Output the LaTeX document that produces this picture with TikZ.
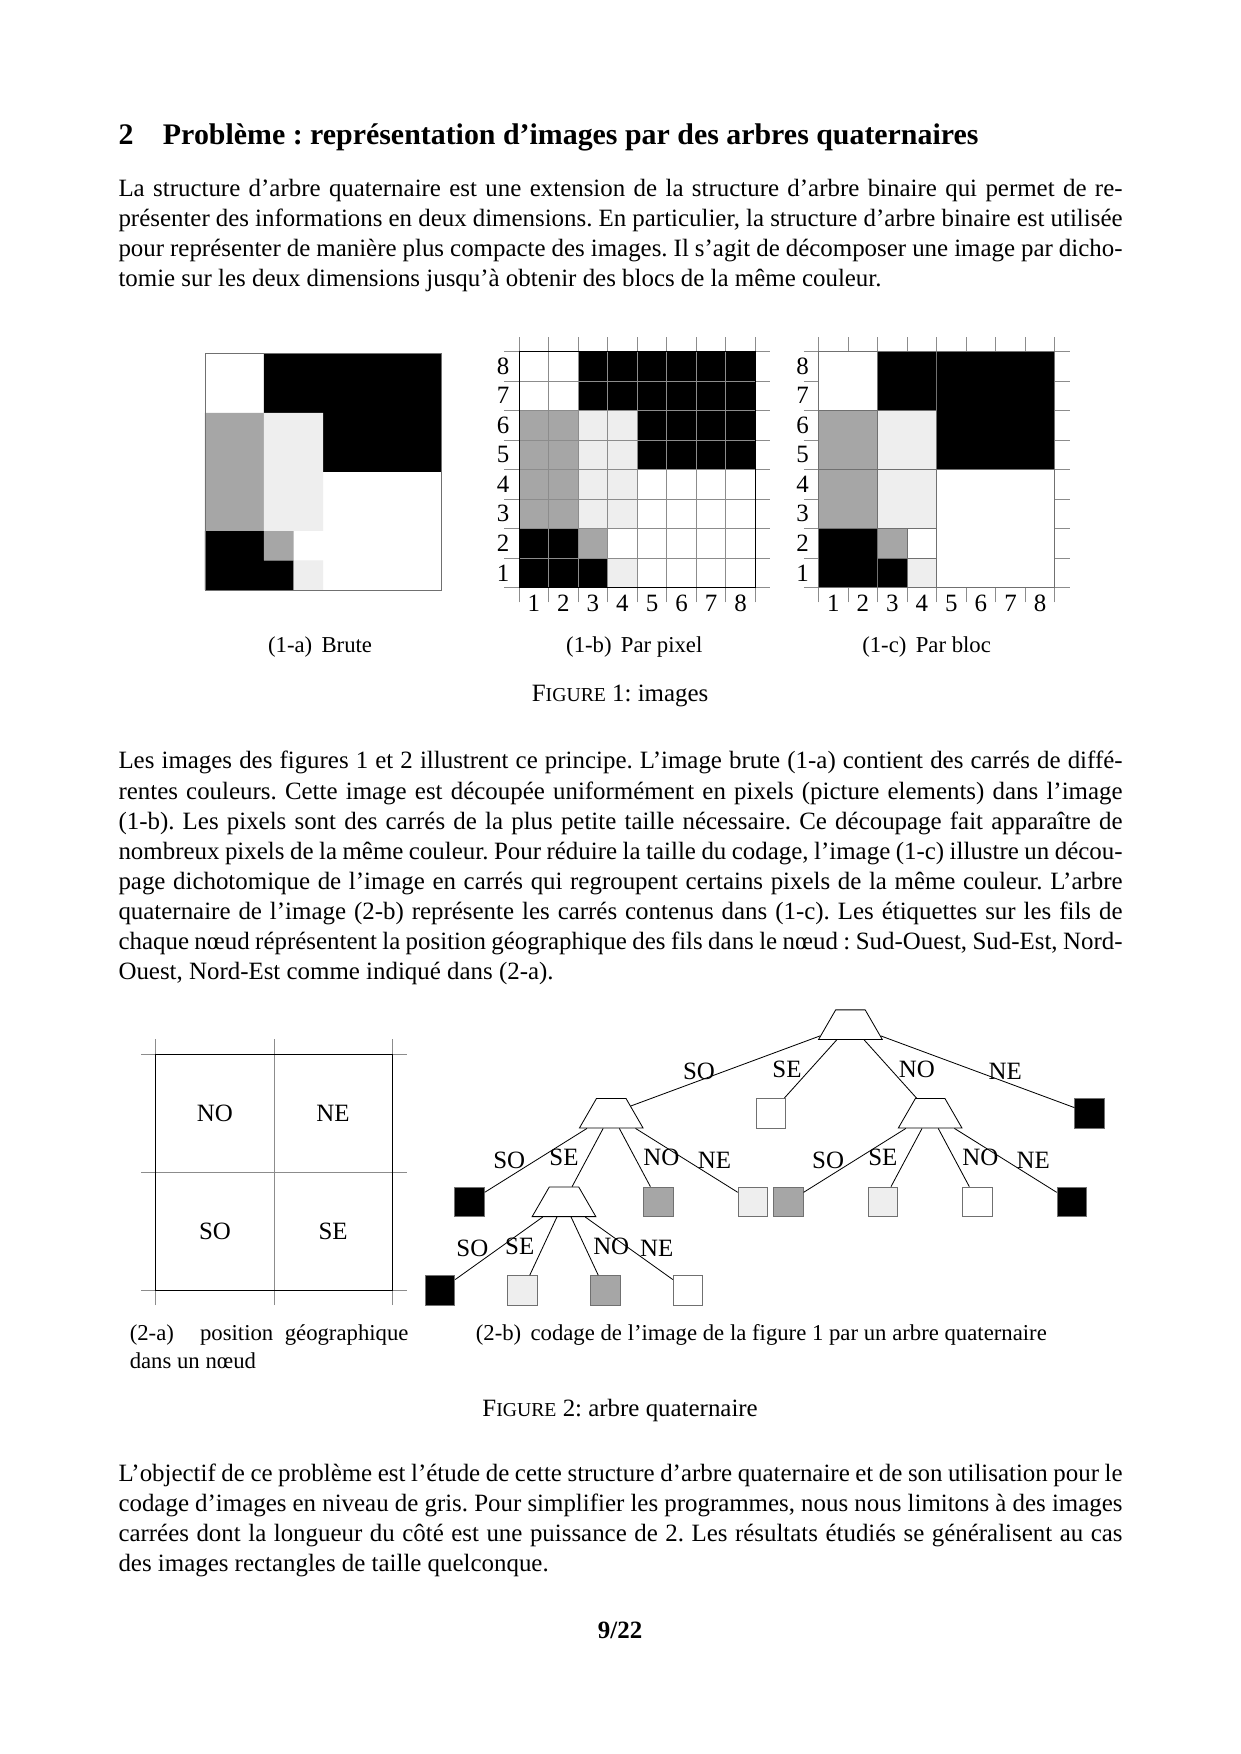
\documentclass[tikz,border=0pt]{standalone}
\usepackage{fontspec}
\setmainfont{Liberation Serif}
\usetikzlibrary{positioning,shapes.geometric}
\definecolor{pixgray}{HTML}{A6A6A6}
\definecolor{pixlight}{HTML}{EEEEEE}
\definecolor{gridline}{HTML}{8C8C8C}
\definecolor{blockline}{HTML}{707070}
\tolerance=9999
\hyphenpenalty=10000
\hbadness=10000
\frenchspacing

\newcommand{\bodyfont}{\fontsize{12}{14.5}\selectfont}
\newcommand{\capfont}{\fontsize{10.95}{13.6}\selectfont}
\newcommand{\figname}{F{\fontsize{9.5}{10}\selectfont IGURE}}
% the 8x8 picture, one unit = one pixel
\newcommand{\paintimage}{%
  \fill[white] (0,0) rectangle (8,8);
  \fill[black] (2,6) rectangle (8,8) (4,4) rectangle (8,6) (0,0) rectangle (2,2) (2,0) rectangle (3,1);
  \fill[pixgray] (0,2) rectangle (2,6) (2,1) rectangle (3,2);
  \fill[pixlight] (2,2) rectangle (4,6) (3,0) rectangle (4,1);
}

\begin{document}
\begin{tikzpicture}[
  font=\bodyfont,
  para/.style={anchor=base west, inner sep=0pt, text width=17cm, align=justify},
  lbl/.style={inner sep=0pt},
  subcap/.style={anchor=base, inner sep=0pt, font=\capfont},
  inode/.style={trapezium, trapezium angle=60, draw, fill=white, inner xsep=0.25cm, inner ysep=0.25cm, minimum width=0pt, minimum height=0pt},
  leaf/.style={draw=blockline, minimum size=0.5cm, inner sep=0pt},
  lso/.style={midway, inner sep=0pt, xshift=-0.45cm},
  lse/.style={midway, inner sep=0pt, xshift=-0.4cm},
  lno/.style={midway, inner sep=0pt, xshift=0.45cm},
  lne/.style={midway, inner sep=0pt, xshift=0.47cm},
  every node/.append style={on grid}
]
\fill[white] (0,0) rectangle (21,-29.7);
\useasboundingbox (0,0) rectangle (21,-29.7);

\node[anchor=base west, inner sep=0pt, font=\fontsize{14.4}{18}\selectfont\bfseries] (title) at (2,-2.44) {2\hspace{0.5cm}Problème : représentation d'images par des arbres quaternaires};

\node[para] (intro) at (2,-3.32) {La structure d'arbre quaternaire est une extension de la structure d'arbre binaire qui permet de re-\linebreak présenter des informations en deux dimensions. En particulier, la structure d'arbre binaire est utilisée\linebreak pour représenter de manière plus compacte des images. Il s'agit de décomposer une image par dicho-\linebreak tomie sur les deux dimensions jusqu'à obtenir des blocs de la même couleur.};

% figure 1
\begin{scope}[shift={(3.47,-9.99)}, x=0.5cm, y=0.5cm]
  \paintimage
  \draw[blockline] (0,0) rectangle (8,8);
\end{scope}

\begin{scope}[shift={(8.79,-9.95)}, x=0.5cm, y=0.5cm]
  \paintimage
  \draw[gridline, step=0.5cm] (-0.5,-0.5) grid (8.5,8.5);
  \draw (0,0) rectangle (8,8);
  \foreach \i in {1,...,8} {
    \node[lbl] (px\i) at (\i-0.5,-0.54) {\i};
    \node[lbl] (py\i) at (-0.54,\i-0.5) {\i};
  }
\end{scope}

\begin{scope}[shift={(13.86,-9.95)}, x=0.5cm, y=0.5cm]
  \draw[gridline, step=0.5cm] (-0.5,-0.5) grid (8.5,8.5);
  \foreach \xa/\ya/\xb/\yb/\c in {0/6/2/8/white, 2/6/4/8/black, 4/4/8/8/black,
      0/4/2/6/pixgray, 2/4/4/6/pixlight, 0/2/2/4/pixgray, 2/2/4/4/pixlight,
      4/0/8/4/white, 0/0/2/2/black, 2/1/3/2/pixgray, 3/1/4/2/white,
      2/0/3/1/black, 3/0/4/1/pixlight}
    \filldraw[fill=\c, draw=blockline] (\xa,\ya) rectangle (\xb,\yb);
  \foreach \i in {1,...,8} {
    \node[lbl] (bx\i) at (\i-0.5,-0.54) {\i};
    \node[lbl] (by\i) at (-0.54,\i-0.5) {\i};
  }
\end{scope}

\node[subcap] (capa) at (5.42,-11.05) {(1-a)\hspace{4.5pt}Brute};
\node[subcap] (capb) at (10.74,-11.05) {(1-b)\hspace{4.5pt}Par pixel};
\node[subcap] (capc) at (15.69,-11.05) {(1-c)\hspace{4.5pt}Par bloc};
\node[anchor=base, inner sep=0pt] (fig1) at (10.5,-11.87) {\figname\ 1: images};

\node[para] (explain) at (2,-13.02) {Les images des figures 1 et 2 illustrent ce principe. L'image brute (1-a) contient des carrés de diffé-\linebreak rentes couleurs. Cette image est découpée uniformément en pixels (picture elements) dans l'image\linebreak (1-b). Les pixels sont des carrés de la plus petite taille nécessaire. Ce découpage fait apparaître de\linebreak nombreux pixels de la même couleur. Pour réduire la taille du codage, l'image (1-c) illustre un décou-\linebreak page dichotomique de l'image en carrés qui regroupent certains pixels de la même couleur. L'arbre\linebreak quaternaire de l'image (2-b) représente les carrés contenus dans (1-c). Les étiquettes sur les fils de\linebreak chaque nœud réprésentent la position géographique des fils dans le nœud~: Sud-Ouest, Sud-Est, Nord-\linebreak Ouest, Nord-Est comme indiqué dans (2-a).};

% figure 2 (a)
\begin{scope}[shift={(2.64,-21.85)}]
  \draw[gridline, step=2cm] (-0.25,-0.25) grid (4.25,4.25);
  \draw (0,0) rectangle (4,4);
  \node[lbl] (qno) at (1,3) {NO};
  \node[lbl] (qne) at (3,3) {NE};
  \node[lbl] (qso) at (1,1) {SO};
  \node[lbl] (qse) at (3,1) {SE};
\end{scope}

% figure 2 (b)
\node[inode] (root) at (14.40,-17.35) {};
\node[inode, below left=1.5cm and 4.05cm of root] (nso) {};
\node[leaf, fill=white, below left=1.5cm and 1.35cm of root] (nse) {};
\node[inode, below right=1.5cm and 1.35cm of root] (nno) {};
\node[leaf, fill=black, below right=1.5cm and 4.05cm of root] (nne) {};

\node[leaf, fill=black, below left=1.5cm and 2.4cm of nso] (soso) {};
\node[inode, below left=1.5cm and 0.8cm of nso] (sose) {};
\node[leaf, fill=pixgray, below right=1.5cm and 0.8cm of nso] (sono) {};
\node[leaf, fill=pixlight, below right=1.5cm and 2.4cm of nso] (sone) {};

\node[leaf, fill=pixgray, below left=1.5cm and 2.4cm of nno] (noso) {};
\node[leaf, fill=pixlight, below left=1.5cm and 0.8cm of nno] (nose) {};
\node[leaf, fill=white, below right=1.5cm and 0.8cm of nno] (nono) {};
\node[leaf, fill=black, below right=1.5cm and 2.4cm of nno] (none) {};

\node[leaf, fill=black, below left=1.5cm and 2.1cm of sose] (seso) {};
\node[leaf, fill=pixlight, below left=1.5cm and 0.7cm of sose] (sese) {};
\node[leaf, fill=pixgray, below right=1.5cm and 0.7cm of sose] (seno) {};
\node[leaf, fill=white, below right=1.5cm and 2.1cm of sose] (sene) {};

\draw (root) -- node[lso] (e1) {SO} (nso);
\draw (root) -- node[lse] (e2) {SE} (nse);
\draw (root) -- node[lno] (e3) {NO} (nno);
\draw (root) -- node[lne] (e4) {NE} (nne);
\draw (nso) -- node[lso] (e5) {SO} (soso);
\draw (nso) -- node[lse] (e6) {SE} (sose);
\draw (nso) -- node[lno] (e7) {NO} (sono);
\draw (nso) -- node[lne] (e8) {NE} (sone);
\draw (nno) -- node[lso] (e9) {SO} (noso);
\draw (nno) -- node[lse] (e10) {SE} (nose);
\draw (nno) -- node[lno] (e11) {NO} (nono);
\draw (nno) -- node[lne] (e12) {NE} (none);
\draw (sose) -- node[lso] (e13) {SO} (seso);
\draw (sose) -- node[lse] (e14) {SE} (sese);
\draw (sose) -- node[lno] (e15) {NO} (seno);
\draw (sose) -- node[lne] (e16) {NE} (sene);

\node[anchor=base west, inner sep=0pt, text width=4.72cm, align=justify, font=\capfont] (capd) at (2.19,-22.69) {(2-a)\hspace{4.5pt plus 4pt}position géographique\linebreak dans un nœud};
\node[anchor=base west, inner sep=0pt, font=\capfont] (cape) at (8.05,-22.69) {(2-b)\hspace{4.5pt}codage de l'image de la figure 1 par un arbre quaternaire};
\node[anchor=base, inner sep=0pt] (fig2) at (10.5,-23.98) {\figname\ 2: arbre quaternaire};

\node[para] (goal) at (2,-25.08) {L'objectif de ce problème est l'étude de cette structure d'arbre quaternaire et de son utilisation pour le\linebreak codage d'images en niveau de gris. Pour simplifier les programmes, nous nous limitons à des images\linebreak carrées dont la longueur du côté est une puissance de 2. Les résultats étudiés se généralisent au cas\linebreak des images rectangles de taille quelconque.};

\node[anchor=base, inner sep=0pt, font=\bodyfont\bfseries] (pagenum) at (10.5,-27.75) {9/22};
\end{tikzpicture}
\end{document}
